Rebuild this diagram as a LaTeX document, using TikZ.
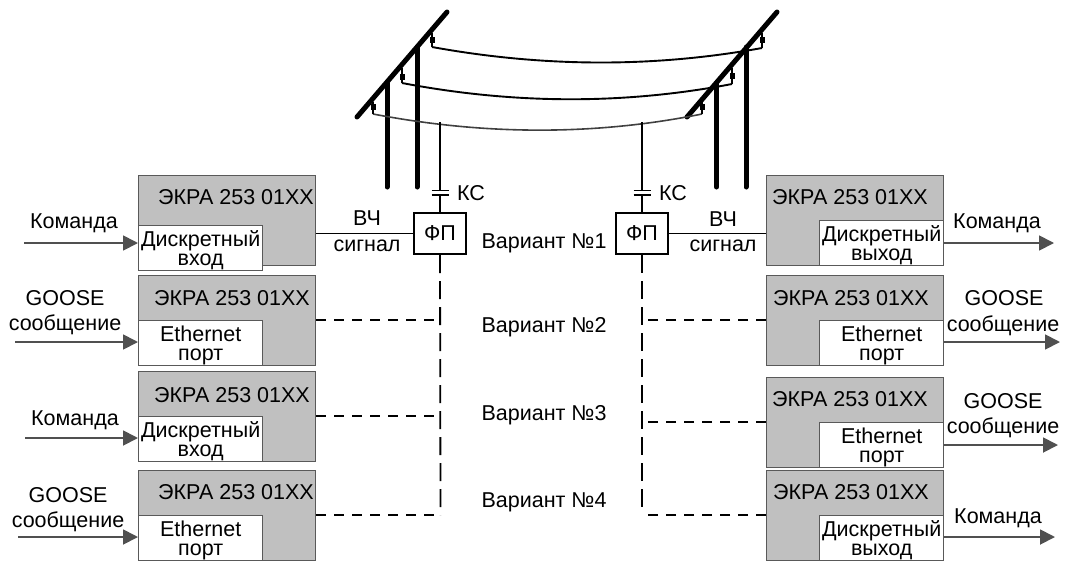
\documentclass[tikz,border=0pt]{standalone}
\usepackage{fontspec}
\setmainfont{Liberation Sans}
\usetikzlibrary{arrows.meta,calc}
\definecolor{boxgray}{HTML}{C0C0C0}
\definecolor{edgegray}{HTML}{595959}
\definecolor{arrowgray}{HTML}{505050}
\tikzset{
  device/.style={draw=edgegray, line width=1.4, fill=boxgray, anchor=north west,
    minimum width=177, minimum height=90, inner sep=0},
  port/.style={draw=edgegray, line width=1.4, fill=white, anchor=north west, align=center,
    minimum width=124, minimum height=45, inner sep=0, text depth=0, font=\fontsize{21.5}{19}\selectfont},
  label/.style={inner sep=0, align=center, font=\fontsize{21.5}{19}\selectfont},
  filterbox/.style={draw=black, line width=2, fill=white, minimum width=52, minimum height=41, inner sep=0},
  sig/.style={-{Triangle[length=15,width=15]}, draw=arrowgray, fill=arrowgray, line width=1.8},
  dashH/.style={line width=1.8, dash pattern=on 10 off 8},
  dashV/.style={line width=1.8, dash pattern=on 18 off 8},
  arm/.style={line width=5, line cap=round},
  pole/.style={line width=5, line cap=round},
  insul/.style={line width=1.4},
  insulbody/.style={fill=black, minimum width=5, minimum height=6, inner sep=0},
}
\begin{document}
\begin{tikzpicture}[x=1pt, y=-1pt]
\useasboundingbox (0,0) rectangle (1067,560);

% ---------- towers ----------
\coordinate (armAa) at (357,117);
\coordinate (armAb) at (447,12);
\coordinate (armBa) at (687,117);
\coordinate (armBb) at (777,12);
\draw[pole] (387,83) -- (387,187);
\draw[pole] (417,47) -- (417,187);
\draw[pole] (716.5,83) -- (716.5,187);
\draw[pole] (746,47) -- (746,187);
\draw[arm] (armAa) -- (armAb);
\draw[arm] (armBa) -- (armBb);

% ---------- wires ----------
\coordinate (topA) at (432,47);
\coordinate (topB) at (762,48);
\coordinate (midA) at (402,83);
\coordinate (midB) at (732,84);
\coordinate (lowA) at (373,114);
\coordinate (lowB) at (702,114);
\draw[line width=1.9] (topA) .. controls (542,67) and (652,68) .. (topB);
\draw[line width=1.9] (midA) .. controls (512,104) and (622,105) .. (midB);
\draw[line width=1.6, draw=black!75] (lowA) .. controls (483,135) and (593,136) .. (lowB);

% ---------- insulators ----------
\draw[insul] (topA) -- (432,33);
\draw[insul] (midA) -- (402,68);
\draw[insul] (lowA) -- (373,102);
\draw[insul] (topB) -- (762,33);
\draw[insul] (midB) -- (732,68);
\draw[insul] (lowB) -- (702,102);
\node[insulbody] (insAa) at (432,40) {};
\node[insulbody] (insAb) at (402,77) {};
\node[insulbody] (insAc) at (373,107) {};
\node[insulbody] (insBa) at (762,40) {};
\node[insulbody] (insBb) at (732,76) {};
\node[insulbody] (insBc) at (702,107) {};

% ---------- filters ----------
\node[filterbox] (fpA) at (440,233.5) {};
\node[filterbox] (fpB) at (642,233.5) {};
\node[label] (fpAt) at (440,233.5) {ФП};
\node[label] (fpBt) at (642,233.5) {ФП};

% ---------- coupling capacitors ----------
\coordinate (tapA) at (440,122);
\coordinate (tapB) at (642,122);
\coordinate (capAu) at (440,190.5);
\coordinate (capAd) at (440,195);
\coordinate (capBu) at (642,190.5);
\coordinate (capBd) at (642,195);
\draw[line width=1.4] (tapA) -- (capAu);
\draw[line width=1.4] (tapB) -- (capBu);
\draw[line width=1.8] (capAd) -- (fpA.north);
\draw[line width=1.8] (capBd) -- (fpB.north);
\draw[line width=1.5] (capAu) ++(-8.5,0) -- ++(17,0);
\draw[line width=1.5] (capAd) ++(-8.5,0) -- ++(17,0);
\draw[line width=1.5] (capBu) ++(-8.5,0) -- ++(17,0);
\draw[line width=1.5] (capBd) ++(-8.5,0) -- ++(17,0);
\node[label] (ksA) at (471,193) {КС};
\node[label] (ksB) at (673,193) {КС};

% ---------- left devices ----------
\node[device] (devA) at (138,175) {};
\node[device] (devB) at (138,275) {};
\node[device] (devC) at (138,371) {};
\node[device] (devD) at (138,470) {};
\node[port] (inA) at (138,225) {Дискретный\\вход};
\node[port] (inB) at (138,320) {Ethernet\\порт};
\node[port] (inC) at (138,416) {Дискретный\\вход};
\node[port] (inD) at (138,515) {Ethernet\\порт};
\node[label] (nameA) at (236,197) {ЭКРА 253 01XX};
\node[label] (nameB) at (232,298) {ЭКРА 253 01XX};
\node[label] (nameC) at (232,395) {ЭКРА 253 01XX};
\node[label] (nameD) at (236,492) {ЭКРА 253 01XX};

% ---------- right devices ----------
\node[device] (devE) at (766,175) {};
\node[device] (devF) at (766,275) {};
\node[device] (devG) at (766,377) {};
\node[device] (devH) at (766,470) {};
\node[port] (outE) at (819,220) {Дискретный\\выход};
\node[port] (outF) at (819,320) {Ethernet\\порт};
\node[port] (outG) at (819,422) {Ethernet\\порт};
\node[port] (outH) at (819,515) {Дискретный\\выход};
\node[label] (nameE) at (850,197) {ЭКРА 253 01XX};
\node[label] (nameF) at (851,298) {ЭКРА 253 01XX};
\node[label] (nameG) at (850,399) {ЭКРА 253 01XX};
\node[label] (nameH) at (851,492) {ЭКРА 253 01XX};

% ---------- inputs ----------
\coordinate (cmdA) at (24,243);
\coordinate (cmdB) at (15,342);
\coordinate (cmdC) at (25,438);
\coordinate (cmdD) at (18,537);
\draw[sig] (cmdA) -- (cmdA -| inA.west);
\draw[sig] (cmdB) -- (cmdB -| inB.west);
\draw[sig] (cmdC) -- (cmdC -| inC.west);
\draw[sig] (cmdD) -- (cmdD -| inD.west);
\node[label] (txtA) at (74,223) {Команда};
\node[label] (txtBa) at (65,298) {GOOSE};
\node[label] (txtBb) at (65,325) {сообщение};
\node[label] (txtC) at (75,420) {Команда};
\node[label] (txtDa) at (68,495) {GOOSE};
\node[label] (txtDb) at (68,522) {сообщение};

% ---------- outputs ----------
\coordinate (cmdE) at (1054,243);
\coordinate (cmdF) at (1060,342);
\coordinate (cmdG) at (1058,445);
\coordinate (cmdH) at (1055,537);
\draw[sig] (cmdE -| outE.east) -- (cmdE);
\draw[sig] (cmdF -| outF.east) -- (cmdF);
\draw[sig] (cmdG -| outG.east) -- (cmdG);
\draw[sig] (cmdH -| outH.east) -- (cmdH);
\node[label] (txtE) at (997,223) {Команда};
\node[label] (txtFa) at (1004,298) {GOOSE};
\node[label] (txtFb) at (1003,326) {сообщение};
\node[label] (txtGa) at (1003,401) {GOOSE};
\node[label] (txtGb) at (1003,428) {сообщение};
\node[label] (txtH) at (998,518) {Команда};

% ---------- HF signal ----------
\draw[line width=1.8] (devA.east |- fpA) -- (fpA);
\draw[line width=1.8] (fpB) -- (devE.west |- fpB);
\node[label] (hfAa) at (367,218) {ВЧ};
\node[label] (hfAb) at (367,246) {сигнал};
\node[label] (hfBa) at (723,219) {ВЧ};
\node[label] (hfBb) at (723,246) {сигнал};

% ---------- variants ----------
\coordinate (busA) at (440.5,515);
\coordinate (busB) at (642,514);
\draw[dashV] (fpA.south) -- (busA);
\draw[dashV] (fpB.south) -- (busB);
\draw[dashH] (devB.east |- inB.north) -- (inB.north -| busA);
\draw[dashH] (devC.east |- inC.north) -- (inC.north -| busA);
\draw[dashH] (devD.east |- inD.north) -- (busA);
\draw[dashH] (devF.west |- outF.north) -- (outF.north -| busB);
\draw[dashH] (devG.west |- outG.north) -- (outG.north -| busB);
\draw[dashH] (devH.west |- outH.north) -- (outH.north -| busB);
\node[label] (varA) at (544,243) {Вариант №1};
\node[label] (varB) at (544,327) {Вариант №2};
\node[label] (varC) at (544,415) {Вариант №3};
\node[label] (varD) at (544,502) {Вариант №4};
\end{tikzpicture}
\end{document}
